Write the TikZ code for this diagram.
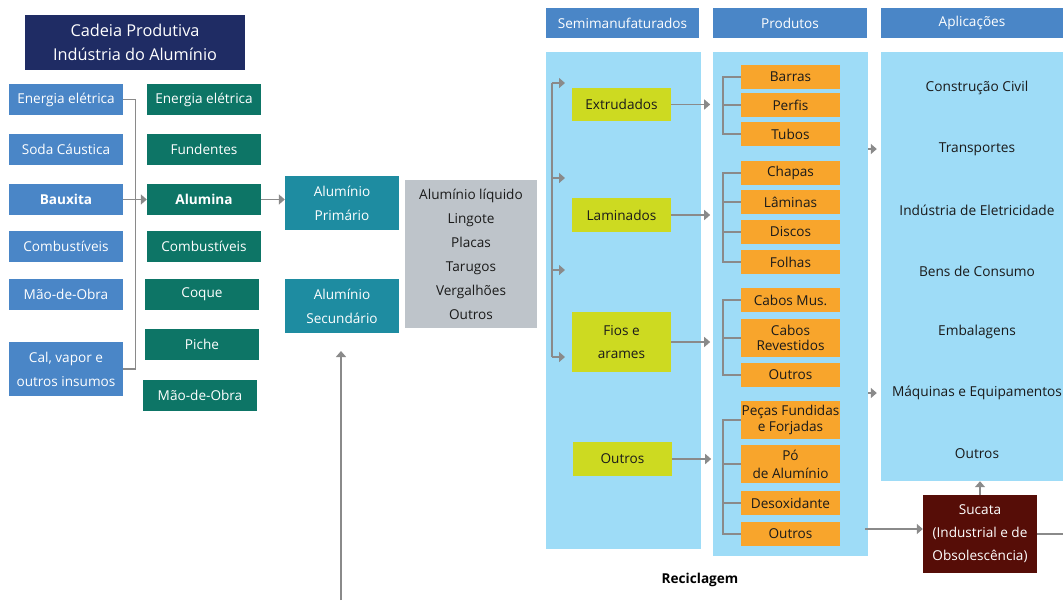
\documentclass[tikz,border=0pt]{standalone}
\usepackage{fontspec}
\setmainfont{Open Sans}
\usetikzlibrary{arrows, arrows.meta}
\usetikzlibrary{calc}

\definecolor{navy}{HTML}{1F2C64}
\definecolor{inblue}{HTML}{4A86C7}
\definecolor{tealbox}{HTML}{0D7566}
\definecolor{albox}{HTML}{1E8CA1}
\definecolor{greybox}{HTML}{BEC4CA}
\definecolor{panelblue}{HTML}{9EDCF7}
\definecolor{limebox}{HTML}{CDDA21}
\definecolor{orangebox}{HTML}{F8A52C}
\definecolor{scrapred}{HTML}{560D07}
\definecolor{linegrey}{HTML}{8A8A8A}
\definecolor{darktext}{HTML}{1A1A1A}

\begin{document}
\begin{tikzpicture}[x=1pt, y=-1pt,
    box/.style={inner sep=0pt, align=center, text=white, font=\fontsize{13.6}{24}\selectfont},
    inbox/.style={box, fill=inblue, minimum width=114pt, minimum height=31pt},
    mixbox/.style={box, fill=tealbox, minimum width=114pt, minimum height=31pt},
    albox/.style={box, fill=albox, minimum width=114pt, minimum height=54pt},
    head/.style={box, fill=inblue, minimum height=30pt},
    panel/.style={fill=panelblue, inner sep=0pt},
    semi/.style={box, fill=limebox, text=darktext, minimum width=99pt},
    prod/.style={box, fill=orangebox, text=darktext, minimum width=99pt, minimum height=24pt},
    app/.style={inner sep=0pt, text=darktext, font=\fontsize{13.7}{24}\selectfont},
    conn/.style={draw=linegrey, line width=1.4pt},
    arr/.style={conn, -{Triangle[length=6pt, width=10pt]}}
    ]
    \useasboundingbox (0,0) rectangle (1063,600);

    \node[panel, minimum width=155pt, minimum height=497pt] (spanel) at (623.5,300.5) {};
    \node[panel, minimum width=155pt, minimum height=504pt] (ppanel) at (790.5,304) {};
    \node[panel, minimum width=182pt, minimum height=429pt] (apanel) at (972,266.5) {};

    \node[box, fill=navy, minimum width=220pt, minimum height=55pt, font=\fontsize{16.3}{24}\selectfont] (title) at (135,42.5) {Cadeia Produtiva\\Indústria do Alumínio};

    \node[inbox] (energia1) at (66,99.5) {Energia elétrica};
    \node[inbox] (soda) at (66,149.5) {Soda Cáustica};
    \node[inbox, font=\fontsize{13.6}{24}\selectfont\bfseries] (bauxita) at (66,199.5) {Bauxita};
    \node[inbox] (comb1) at (66,246.5) {Combustíveis};
    \node[inbox] (mao1) at (66,294.5) {Mão-de-Obra};
    \node[inbox, minimum height=54pt] (cal) at (66,369) {Cal, vapor e\\outros insumos};

    \node[mixbox] (energia2) at (204,99.5) {Energia elétrica};
    \node[mixbox] (fund) at (204,149.5) {Fundentes};
    \node[mixbox, font=\fontsize{13.6}{24}\selectfont\bfseries] (alumina) at (204,199.5) {Alumina};
    \node[mixbox] (comb2) at (204,246.5) {Combustíveis};
    \node[mixbox] (coque) at (202,294.5) {Coque};
    \node[mixbox] (piche) at (202,344.5) {Piche};
    \node[mixbox] (mao2) at (200,395.5) {Mão-de-Obra};

    \node[albox] (alprim) at (342,203) {Alumínio\\Primário};
    \node[albox] (alsec) at (342,306) {Alumínio\\Secundário};
    \node[box, fill=greybox, text=darktext, minimum width=132pt, minimum height=148pt] (forms) at (471,254) {Alumínio líquido\\Lingote\\Placas\\Tarugos\\Vergalhões\\Outros};

    \node[head, minimum width=153pt] (hsemi) at (622.5,23) {Semimanufaturados};
    \node[head, minimum width=154pt] (hprod) at (790,23) {Produtos};
    \node[head, minimum width=182pt] (happ) at (972,23) {Aplicações};

    \node[semi, minimum height=33pt] (extr) at (621.5,104.5) {Extrudados};
    \node[semi, minimum height=34pt] (lam) at (621.5,215) {Laminados};
    \node[semi, minimum height=60pt, font=\fontsize{13.6}{23}\selectfont] (fios) at (621.5,342) {Fios e\\arames};
    \node[semi, minimum height=34pt] (outs) at (622.5,459) {Outros};

    \node[prod] (barras) at (790.5,77) {Barras};
    \node[prod] (perfis) at (790.5,105) {Perfis};
    \node[prod] (tubos) at (790.5,134) {Tubos};
    \node[prod] (chapas) at (790.5,173) {Chapas};
    \node[prod] (laminas) at (790.5,202) {Lâminas};
    \node[prod] (discos) at (790.5,232) {Discos};
    \node[prod] (folhas) at (790.5,262) {Folhas};
    \node[prod] (cabosm) at (790.5,300) {Cabos Mus.};
    \node[prod, minimum height=38pt, font=\fontsize{13.6}{15}\selectfont] (cabosr) at (790.5,338) {Cabos\\Revestidos};
    \node[prod] (outrosa) at (790.5,375) {Outros};
    \node[prod, minimum height=38pt, font=\fontsize{13.6}{16}\selectfont] (pecas) at (790.5,420) {Peças Fundidas\\e Forjadas};
    \node[prod, minimum height=38pt, font=\fontsize{13.6}{18}\selectfont] (po) at (790.5,464) {Pó\\de Alumínio};
    \node[prod] (desox) at (790.5,503) {Desoxidante};
    \node[prod] (outrosb) at (790.5,534) {Outros};

    \foreach \txt [count=\i] in {Construção Civil, Transportes, Indústria de Eletricidade, Bens de Consumo, Embalagens, Máquinas e Equipamentos, Outros}
        \node[app] (app\i) at (977,{88+61*(\i-1)}) {\txt};

    \node[box, fill=scrapred, minimum width=114pt, minimum height=78pt, font=\fontsize{13.6}{23}\selectfont] (sucata) at (980,534) {Sucata\\(Industrial e de\\Obsolescência)};

    \node[inner sep=0pt, text=black, font=\fontsize{13.6}{16}\selectfont\bfseries] (recl) at (700,580) {Reciclagem};

    \draw[conn] (energia1.east) -- ++(12,0) |- (cal.east);
    \draw[arr] (bauxita.east) -- (alumina.west);
    \draw[arr] (alumina.east) -- (alumina.east -| alprim.west);

    \coordinate (rectail) at (341,600);
    \coordinate (rectip) at (341,351);
    \draw[arr] (rectail) -- (rectip);

    \foreach \yy [count=\i] in {83,178,270,357} {
        \coordinate (sb\i) at (552,\yy);
        \draw[arr] (sb\i) -- ++(13,0);
    }
    \draw[conn] (sb1) -- (sb4);

    \foreach \s in {extr, lam, fios, outs}
        \draw[arr] (\s.east) -- ++(39,0);

    \draw[conn] (barras.west) -- ++(-18,0) |- (tubos.west);
    \draw[conn] (perfis.west) -- ++(-18,0);
    \draw[conn] (chapas.west) -- ++(-18,0) |- (folhas.west);
    \draw[conn] (laminas.west) -- ++(-18,0);
    \draw[conn] (discos.west) -- ++(-18,0);
    \draw[conn] (cabosm.west) -- ++(-18,0) |- (outrosa.west);
    \draw[conn] (cabosr.west) -- ++(-18,0);
    \draw[conn] (pecas.west) -- ++(-18,0) |- (outrosb.west);
    \draw[conn] (po.west) -- ++(-18,0);
    \draw[conn] (desox.west) -- ++(-18,0);

    \draw[arr, shorten >=4pt] (ppanel.east |- app2) -- (apanel.west |- app2);
    \draw[arr, shorten >=4pt] (ppanel.east |- app6) -- (apanel.west |- app6);

    \coordinate (scrapin) at (865,529);
    \draw[arr] (scrapin) -- (scrapin -| sucata.west);
    \draw[arr] (sucata.north) -- (sucata.north |- apanel.south);
    \coordinate (recright) at (1063,534);
    \draw[conn] (sucata.east) -- (recright);
\end{tikzpicture}
\end{document}
